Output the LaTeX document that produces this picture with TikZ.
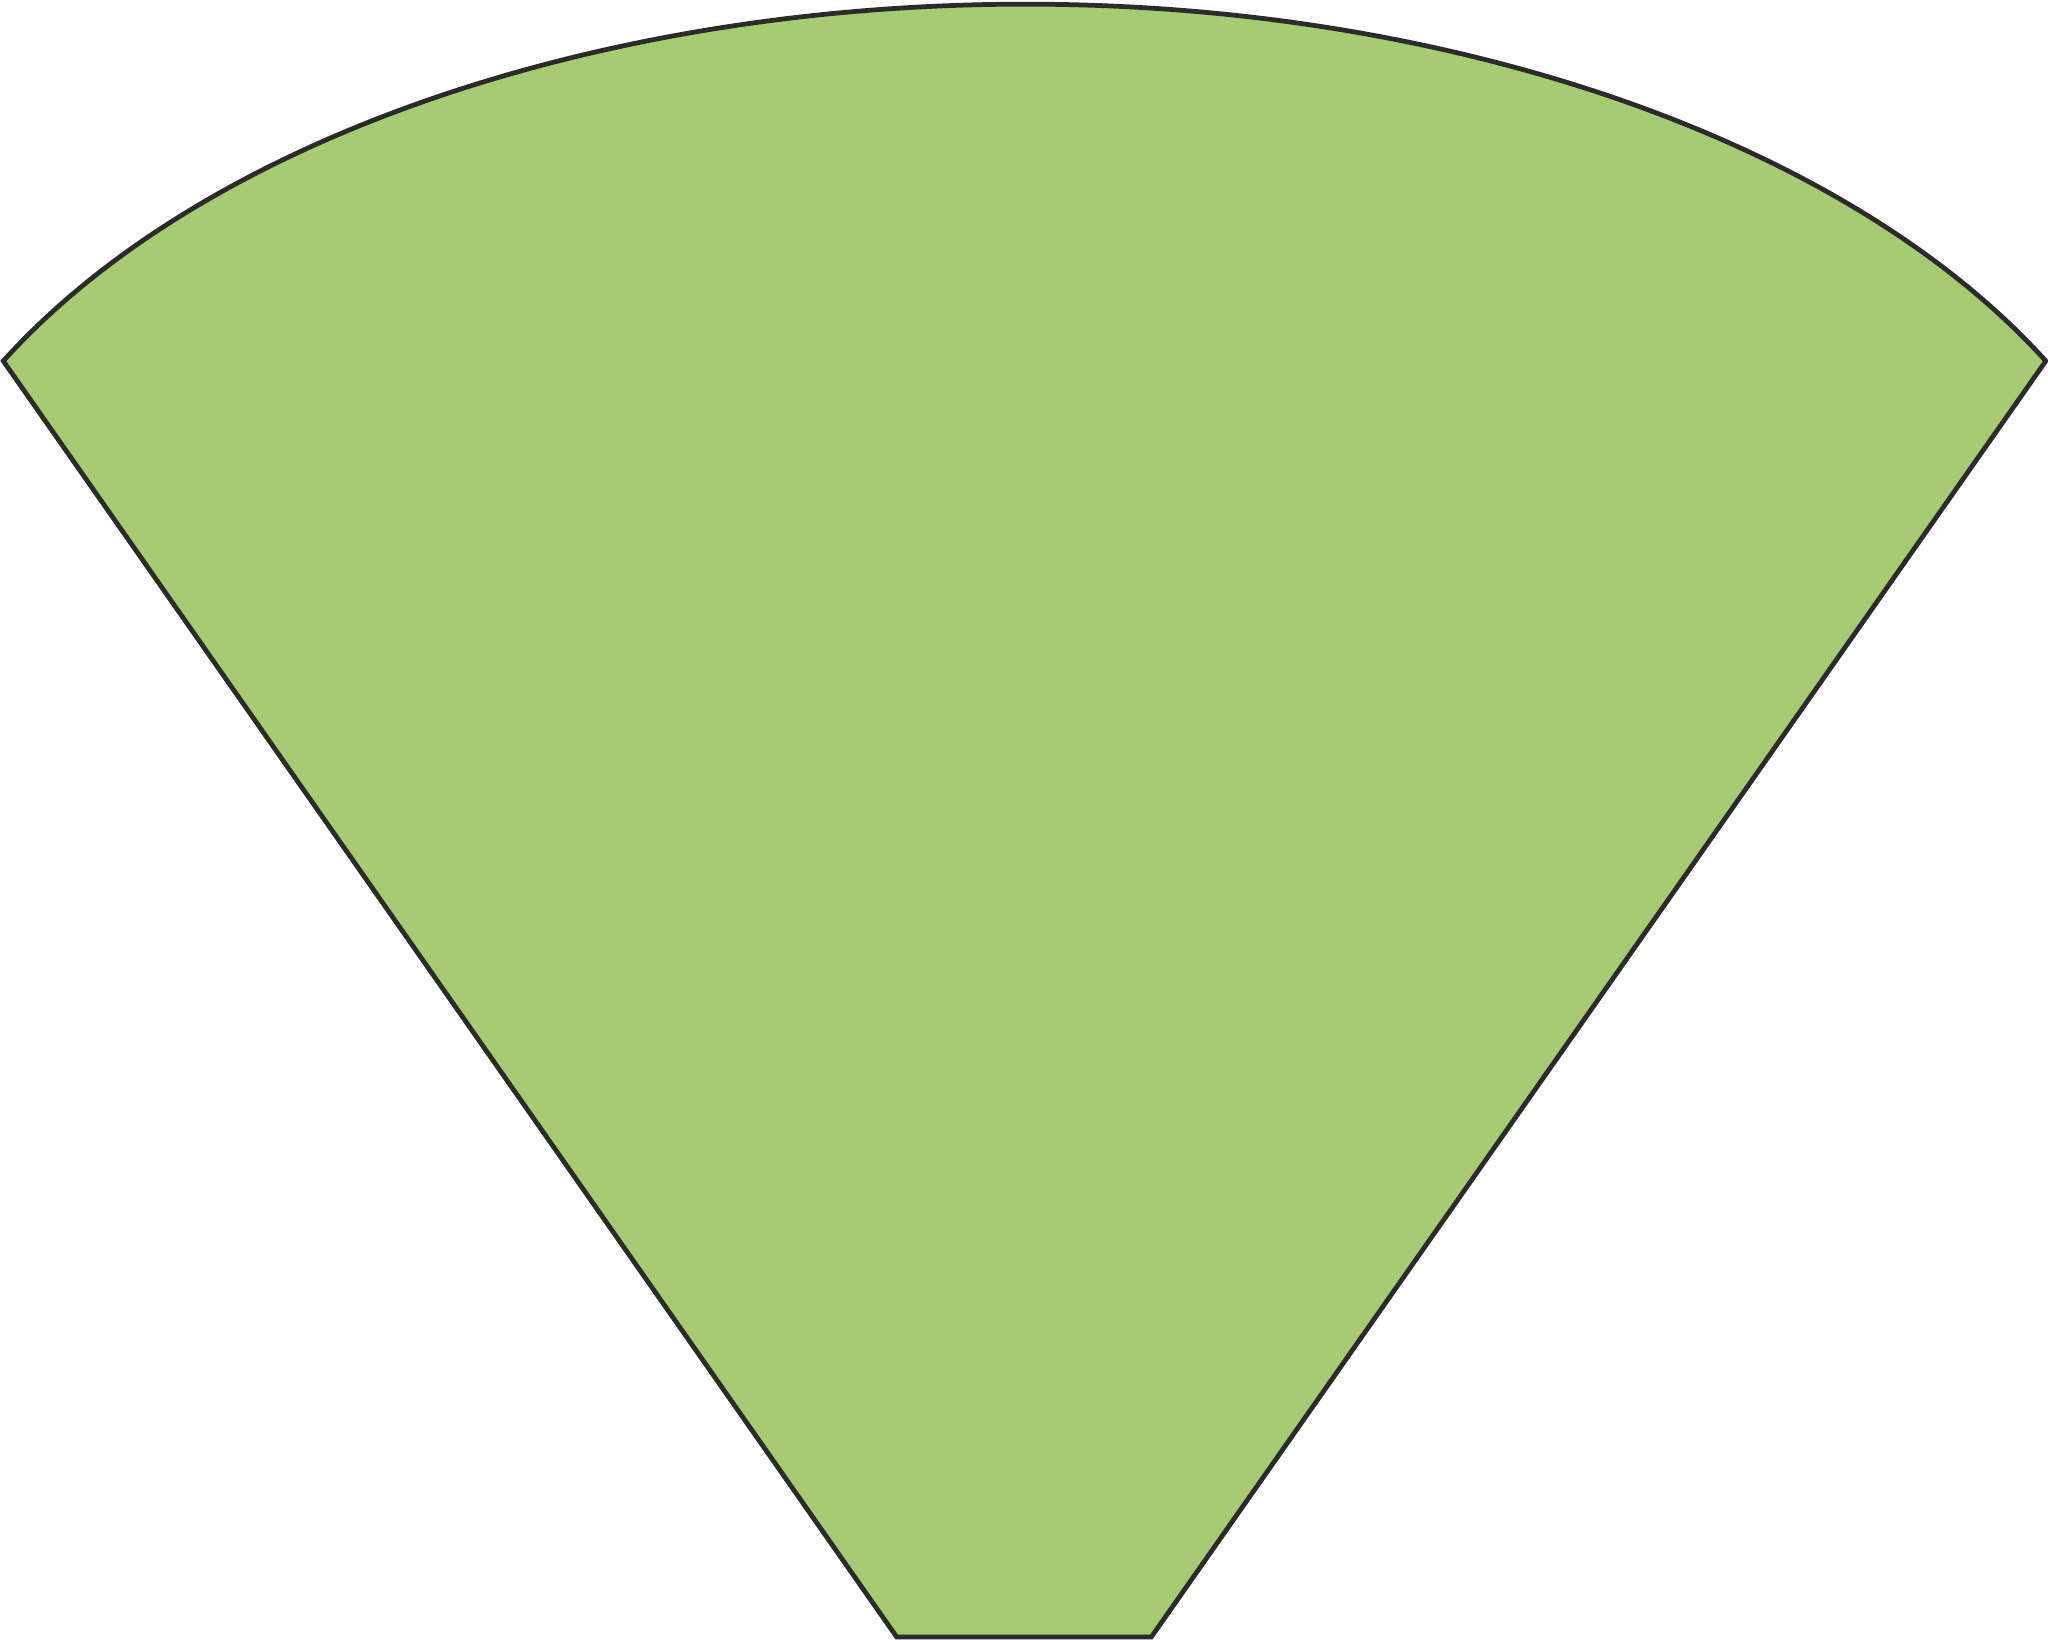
\documentclass[tikz,border=0pt]{standalone}
\definecolor{leaf}{HTML}{A5CB73}
\definecolor{ink}{HTML}{2B2B2A}

\begin{document}
\begin{tikzpicture}[x=0.01cm,y=-0.01cm]
    \useasboundingbox (0,0) rectangle (2048,1640);
    \coordinate (tl) at (3.3,361);
    \coordinate (tr) at (2044.7,361);
    \coordinate (br) at (1151.3,1637);
    \coordinate (bl) at (896.7,1637);
    \draw[ink,fill=leaf,line width=1.35pt] (tl) arc[start angle=152.57,end angle=27.43,x radius=11.5cm,y radius=6.61cm]
      -- (br) -- (bl) -- cycle;
\end{tikzpicture}
\end{document}
